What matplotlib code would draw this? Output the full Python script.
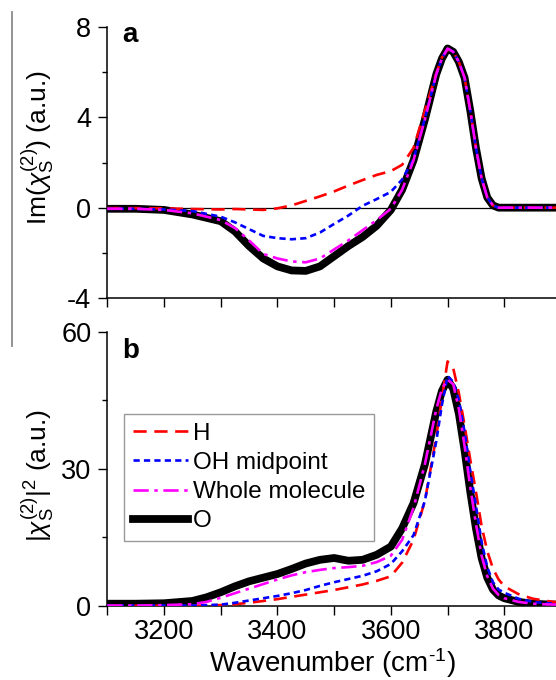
import matplotlib
matplotlib.use("Agg")
import matplotlib.pyplot as plt
from matplotlib.lines import Line2D
from matplotlib.ticker import MultipleLocator, NullFormatter

plt.rcParams['font.family'] = ['Liberation Sans', 'DejaVu Sans']
plt.rcParams['mathtext.fontset'] = 'custom'
plt.rcParams['mathtext.rm'] = 'Liberation Sans'
plt.rcParams['mathtext.it'] = 'Liberation Sans:italic'
plt.rcParams['mathtext.bf'] = 'Liberation Sans:bold'
plt.rcParams['lines.scale_dashes'] = False
plt.rcParams['axes.unicode_minus'] = False

# ---------------- data ----------------
labels = ["H", "OH midpoint", "Whole molecule", "O"]

wn_a = [3100, 3150, 3200, 3250, 3300, 3325, 3350, 3375, 3400, 3425, 3450, 3475,
        3500, 3525, 3550, 3575, 3600, 3620, 3640, 3660, 3680, 3690, 3700, 3710,
        3720, 3730, 3740, 3750, 3760, 3770, 3780, 3790, 3800, 3850, 3900]

im_H = [-0.02, -0.02, -0.03, -0.06, -0.08, -0.06, -0.08, -0.10, -0.03, 0.10, 0.30, 0.50,
        0.72, 0.98, 1.22, 1.45, 1.62, 1.90, 2.65, 4.30, 5.95, 6.65, 7.00, 6.90,
        6.45, 5.75, 4.30, 2.65, 1.30, 0.45, 0.10, 0.0, 0.0, 0.0, 0.0]
im_OH = [-0.05, -0.05, -0.08, -0.15, -0.40, -0.65, -0.95, -1.25, -1.35, -1.40, -1.35, -1.10,
         -0.72, -0.35, 0.08, 0.38, 0.70, 1.25, 2.15, 3.95, 5.90, 6.60, 7.05, 6.90,
         6.45, 5.75, 4.30, 2.65, 1.30, 0.45, 0.10, 0.0, 0.0, 0.0, 0.0]
im_whole = [-0.05, -0.05, -0.10, -0.25, -0.55, -0.90, -1.45, -2.05, -2.25, -2.38, -2.42, -2.25,
            -1.85, -1.45, -1.00, -0.55, -0.05, 0.80, 2.10, 3.90, 5.90, 6.60, 7.05, 6.90,
            6.45, 5.75, 4.30, 2.65, 1.30, 0.45, 0.10, 0.0, 0.0, 0.0, 0.0]
im_O = [-0.05, -0.05, -0.10, -0.30, -0.60, -1.05, -1.70, -2.25, -2.60, -2.78, -2.80, -2.60,
        -2.15, -1.70, -1.30, -0.80, -0.10, 0.80, 2.10, 3.90, 5.90, 6.60, 7.05, 6.90,
        6.45, 5.75, 4.30, 2.65, 1.30, 0.45, 0.10, 0.0, 0.0, 0.0, 0.0]

wn_b = [3100, 3150, 3200, 3250, 3275, 3300, 3325, 3350, 3375, 3400, 3425, 3450, 3475,
        3500, 3525, 3550, 3575, 3600, 3620, 3640, 3660, 3680, 3690, 3700, 3710,
        3720, 3730, 3740, 3750, 3760, 3770, 3780, 3790, 3800, 3825, 3850, 3875, 3900]

sq_H = [0.05, 0.05, 0.05, 0.05, 0.10, 0.20, 0.40, 0.70, 1.10, 1.50, 2.00, 2.50, 3.00,
        3.50, 4.10, 4.70, 5.50, 6.50, 9.50, 14.5, 23.0, 37.0, 45.5, 53.5, 52.0,
        46.5, 39.5, 32.0, 25.0, 17.5, 12.0, 8.2, 5.8, 4.3, 2.6, 1.6, 1.1, 0.7]
sq_OH = [0.10, 0.10, 0.10, 0.10, 0.20, 0.30, 0.70, 1.20, 1.70, 2.20, 2.80, 3.50, 4.40,
         5.20, 5.90, 6.60, 7.60, 9.20, 12.0, 15.5, 23.0, 36.0, 44.0, 50.3, 49.0,
         45.0, 38.0, 29.5, 22.0, 14.0, 8.5, 5.2, 3.6, 2.9, 1.6, 0.9, 0.6, 0.4]
sq_whole = [0.10, 0.10, 0.20, 0.40, 0.90, 1.80, 2.80, 3.80, 4.80, 5.80, 6.70, 7.40, 7.90,
            8.30, 8.50, 8.80, 9.60, 11.0, 14.5, 21.5, 31.0, 43.0, 47.5, 49.5, 48.5,
            43.0, 35.0, 26.0, 18.0, 11.0, 6.5, 3.8, 2.4, 1.7, 0.9, 0.5, 0.35, 0.3]
sq_O = [0.50, 0.50, 0.60, 1.10, 1.90, 3.00, 4.30, 5.40, 6.20, 7.00, 8.10, 9.30, 10.1,
        10.5, 9.90, 10.1, 11.2, 13.0, 17.0, 22.5, 31.0, 42.5, 47.0, 49.5, 47.5,
        42.0, 34.0, 25.0, 17.0, 10.5, 6.2, 3.6, 2.3, 1.7, 0.9, 0.5, 0.35, 0.3]

# ---------------- styles ----------------
W, H = 556, 680
fig = plt.figure(figsize=(W / 100, H / 100), dpi=100)

def px_box(left, top, right, bottom):
    return [left / W, 1 - bottom / H, (right - left) / W, (bottom - top) / H]

ax_a = fig.add_axes(px_box(107.3, 27, 561, 298))
ax_b = fig.add_axes(px_box(107.3, 331.7, 561, 606))

st_H = dict(color='#ff0000', lw=1.9, dashes=(9.5, 5.5))
st_OH = dict(color='#0000ff', lw=1.9, dashes=(4.5, 3.0))
st_W = dict(color='#ff00ff', lw=1.9, dashes=(11, 4, 2.5, 4))
st_O = dict(color='black', lw=5.6, solid_capstyle='round', solid_joinstyle='round')

ax_a.axhline(0, color='black', lw=0.9, zorder=1)
ax_a.plot(wn_a, im_O, zorder=2, **st_O)
ax_a.plot(wn_a, im_H, zorder=3, **st_H)
ax_a.plot(wn_a, im_OH, zorder=4, **st_OH)
ax_a.plot(wn_a, im_whole, zorder=5, **st_W)

ax_b.plot(wn_b, sq_O, zorder=2, **st_O)
ax_b.plot(wn_b, sq_H, zorder=3, **st_H)
ax_b.plot(wn_b, sq_OH, zorder=4, **st_OH)
ax_b.plot(wn_b, sq_whole, zorder=5, **st_W)

tick_fs = 19.5
for ax in (ax_a, ax_b):
    ax.set_xlim(3100, 3900)
    for s in ('top', 'right'):
        ax.spines[s].set_visible(False)
    for s in ('left', 'bottom'):
        ax.spines[s].set_linewidth(1.1)
    ax.xaxis.set_major_locator(MultipleLocator(200))
    ax.xaxis.set_minor_locator(MultipleLocator(100))
    ax.tick_params(axis='x', which='both', direction='out', length=6.5, width=1.0,
                   labelsize=tick_fs, pad=3)
    ax.tick_params(axis='y', which='major', direction='out', length=6.5, width=1.0,
                   labelsize=tick_fs, pad=5)
    ax.tick_params(axis='y', which='minor', direction='out', length=3.8, width=1.0)

ax_a.set_ylim(-4, 8)
ax_a.yaxis.set_major_locator(MultipleLocator(4))
ax_a.yaxis.set_minor_locator(MultipleLocator(2))
ax_a.xaxis.set_major_formatter(NullFormatter())

ax_b.set_ylim(0, 60)
ax_b.yaxis.set_major_locator(MultipleLocator(30))
ax_b.yaxis.set_minor_locator(MultipleLocator(15))

# panel letters
fig.text(122 / W, 1 - 42 / H, 'a', fontsize=20, fontweight='bold', ha='left', va='baseline')
fig.text(122 / W, 1 - 358 / H, 'b', fontsize=20, fontweight='bold', ha='left', va='baseline')

# axis labels
fig.text(38 / W, 1 - 147 / H, r'Im($\chi_{\mathrm{S}}^{(2)}$) (a.u.)', rotation=90,
         ha='center', va='center', fontsize=19)
fig.text(38 / W, 1 - 475 / H, r'$|\chi_{\mathrm{S}}^{(2)}|^{2}$ (a.u.)', rotation=90,
         ha='center', va='center', fontsize=19)
fig.text(332.5 / W, 1 - 672 / H, r'Wavenumber (cm$^{\text{-}1}$)', ha='center',
         va='baseline', fontsize=20)

# legend
handles = [Line2D([], [], **st_H), Line2D([], [], **st_OH), Line2D([], [], **st_W),
           Line2D([], [], color='black', lw=5.6)]
leg = ax_b.legend(handles, labels, loc='upper left', bbox_to_anchor=(0.0368, 0.70),
                  borderaxespad=0, fontsize=17.5, frameon=True, fancybox=False,
                  edgecolor='#808080', handlelength=2.3, handletextpad=0.2,
                  labelspacing=0.3, borderpad=0.35)
leg.get_frame().set_linewidth(1.0)

# gray vertical rule at left
fig.add_artist(Line2D([11.7 / W, 11.7 / W], [1 - 12 / H, 1 - 346 / H],
                      transform=fig.transFigure, color='#8a8a8a', lw=1.3))

fig.savefig('out.png', dpi=100)
